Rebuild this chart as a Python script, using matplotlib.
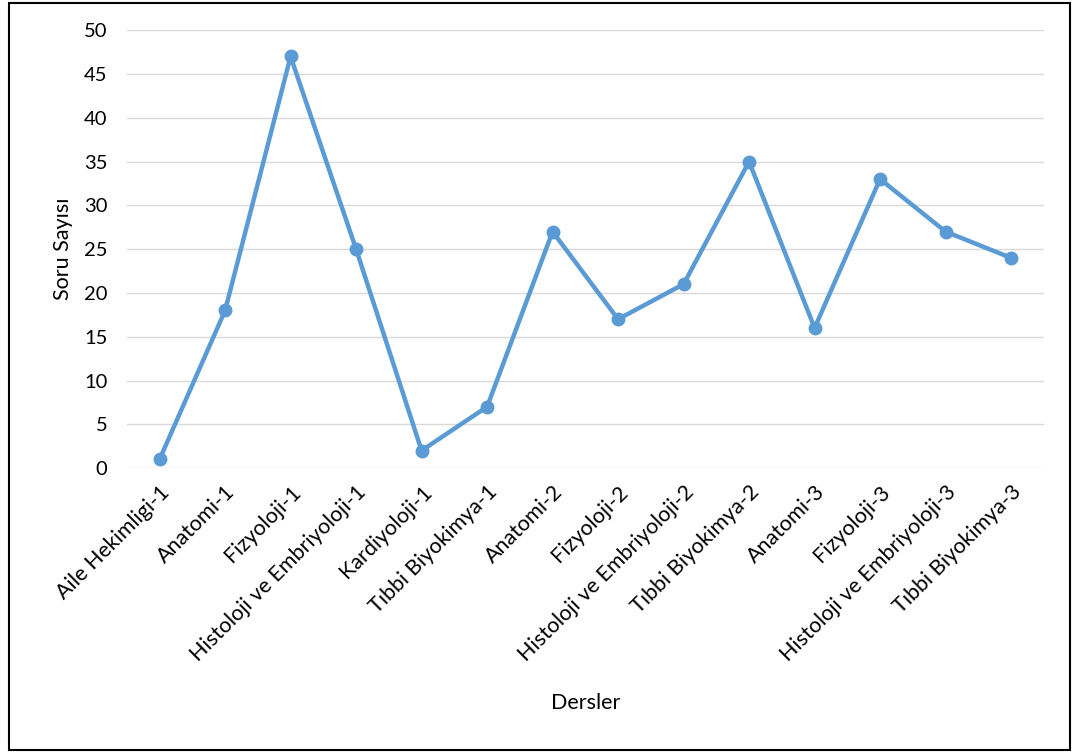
import numpy as np
import matplotlib.pyplot as plt
from matplotlib.patches import Rectangle

# data
dersler = ['Aile Hekimligi-1', 'Anatomi-1', 'Fizyoloji-1', 'Histoloji ve Embriyoloji-1',
           'Kardiyoloji-1', 'Tıbbi Biyokimya-1', 'Anatomi-2', 'Fizyoloji-2',
           'Histoloji ve Embriyoloji-2', 'Tıbbi Biyokimya-2', 'Anatomi-3', 'Fizyoloji-3',
           'Histoloji ve Embriyoloji-3', 'Tıbbi Biyokimya-3']
soru_sayisi = [1, 18, 47, 25, 2, 7, 27, 17, 21, 35, 16, 33, 27, 24]
y_ticks = [0, 5, 10, 15, 20, 25, 30, 35, 40, 45, 50]

plt.rcParams['font.family'] = ['Lato', 'DejaVu Sans']

fig = plt.figure(figsize=(10.75, 7.55), dpi=100)
ax = fig.add_axes([0.118, 0.380, 0.853, 0.580])

x = np.arange(len(dersler))
ax.plot(x, soru_sayisi, '-o', color='#5B9BD5', linewidth=3.2, markersize=9, zorder=3)

ax.set_xlim(-0.5, len(dersler) - 0.5)
ax.set_ylim(0, 50)
ax.set_yticks(y_ticks)
ax.set_xticks(x)
ax.set_xticklabels(dersler, rotation=45, ha='right', rotation_mode='anchor', fontsize=15.5)
ax.tick_params(axis='y', labelsize=14.5, length=0, pad=14)
ax.tick_params(axis='x', length=0, pad=10)

ax.grid(axis='y', color='#d9d9d9', linewidth=1)
ax.set_axisbelow(True)
for s in ax.spines.values():
    s.set_visible(False)

ax.set_ylabel('Soru Sayısı', fontsize=15.5, labelpad=8)
fig.text(0.545, 0.069, 'Dersler', fontsize=15.5, ha='center', va='center')

# border around the whole chart
fig.patches.append(Rectangle((0.008, 0.006), 0.987, 0.990, transform=fig.transFigure,
                             fill=False, edgecolor='black', linewidth=1.5))

fig.savefig('out.png', dpi=100)
